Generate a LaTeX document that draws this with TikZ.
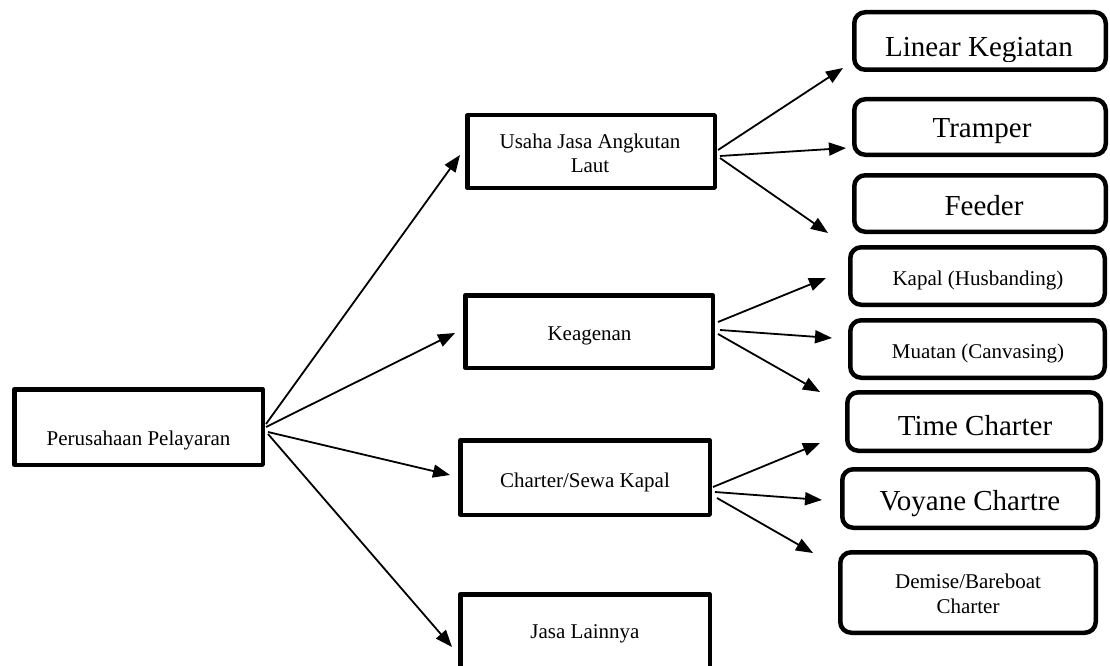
\documentclass[tikz,border=0pt]{standalone}
\usepackage{fontspec}
\setmainfont{Liberation Serif}
\usetikzlibrary{arrows.meta}
\tikzset{
  sqbox/.style={draw=black, line width=4.5pt, fill=white, inner sep=0pt, line join=round},
  rbox/.style={draw=black, line width=4.5pt, fill=white, inner sep=0pt, rounded corners=11pt},
  small/.style={font=\fontsize{21}{24}\selectfont, inner sep=0pt, anchor=base},
  big/.style={font=\fontsize{29}{32}\selectfont, inner sep=0pt, anchor=base},
  conn/.style={line width=1.8pt, -{Triangle[length=17pt,width=13pt]}},
}
\begin{document}
\begin{tikzpicture}[x=1pt,y=-1pt]
\useasboundingbox (0,0) rectangle (1110,666);
% left boxes
\node[sqbox, minimum width=248.5pt, minimum height=75.5pt] (pp) at (138.5,427) {};
\node[small] (ppt) at (138.5,445) {Perusahaan Pelayaran};
\node[sqbox, minimum width=247.5pt, minimum height=72.5pt] (us) at (591,151.5) {};
\node[small] (ust1) at (590,148) {Usaha Jasa Angkutan};
\node[small] (ust2) at (590,172) {Laut};
\node[sqbox, minimum width=247.5pt, minimum height=72.5pt] (kg) at (589,331.5) {};
\node[small] (kgt) at (589.5,340) {Keagenan};
\node[sqbox, minimum width=249.5pt, minimum height=74.5pt] (ch) at (585,477.5) {};
\node[small] (cht) at (585,487) {Charter/Sewa Kapal};
\node[sqbox, minimum width=249.5pt, minimum height=75.5pt] (jl) at (585,632) {};
\node[small] (jlt) at (585,638) {Jasa Lainnya};
% right boxes
\node[rbox, minimum width=251.5pt, minimum height=57.5pt] (lk) at (980,41) {};
\begin{scope}\clip (850,10) rectangle (1110,62);
\node[big] (lkt) at (979,57) {Linear Kegiatan};\end{scope}
\node[rbox, minimum width=251.5pt, minimum height=55.5pt] (tr) at (980,127) {};
\begin{scope}\clip (850,97) rectangle (1110,143);
\node[big] (trt) at (982,138) {Tramper};\end{scope}
\node[rbox, minimum width=251.5pt, minimum height=56.5pt] (fe) at (980,203.5) {};
\node[big] (fet) at (984,215) {Feeder};
\node[rbox, minimum width=254.5pt, minimum height=57.5pt] (kh) at (977.5,276) {};
\node[small] (kht) at (978,285) {Kapal (Husbanding)};
\node[rbox, minimum width=254.5pt, minimum height=57.5pt] (mc) at (977.5,349) {};
\node[small] (mct) at (978,358) {Muatan (Canvasing)};
\node[rbox, minimum width=253.5pt, minimum height=58.5pt] (tc) at (974,421.5) {};
\begin{scope}\clip (840,390) rectangle (1110,440);
\node[big] (tct) at (975,435) {Time Charter};\end{scope}
\node[rbox, minimum width=255.5pt, minimum height=58.5pt] (vc) at (970,498.5) {};
\begin{scope}\clip (835,467) rectangle (1110,516);
\node[big] (vct) at (970,510) {Voyane Chartre};\end{scope}
\node[rbox, minimum width=255.5pt, minimum height=80.5pt] (db) at (968,592.5) {};
\node[small] (dbt1) at (968,588) {Demise/Bareboat};
\node[small] (dbt2) at (968,613) {Charter};
% connector end points
\coordinate (p1) at (266,424); \coordinate (p2) at (266,427);
\coordinate (p3) at (268,432); \coordinate (p4) at (268,434);
\coordinate (t1) at (460,155); \coordinate (t2) at (455,333);
\coordinate (t3) at (450,475); \coordinate (t4) at (452,647);
\coordinate (u1) at (718,150); \coordinate (u2) at (720,156); \coordinate (u3) at (720,158);
\coordinate (v1) at (843,68); \coordinate (v2) at (846,148); \coordinate (v3) at (828,233);
\coordinate (k1) at (718,322); \coordinate (k2) at (720,330); \coordinate (k3) at (718,334);
\coordinate (w1) at (826,278); \coordinate (w2) at (832,338); \coordinate (w3) at (820,392);
\coordinate (c1) at (713,487); \coordinate (c2) at (715,492); \coordinate (c3) at (717,498);
\coordinate (x1) at (820,443); \coordinate (x2) at (822,500); \coordinate (x3) at (813,553);
% connectors
\draw[conn] (p1) -- (t1);
\draw[conn] (p2) -- (t2);
\draw[conn] (p3) -- (t3);
\draw[conn] (p4) -- (t4);
\draw[conn] (u1) -- (v1);
\draw[conn] (u2) -- (v2);
\draw[conn] (u3) -- (v3);
\draw[conn] (k1) -- (w1);
\draw[conn] (k2) -- (w2);
\draw[conn] (k3) -- (w3);
\draw[conn] (c1) -- (x1);
\draw[conn] (c2) -- (x2);
\draw[conn] (c3) -- (x3);
\end{tikzpicture}
\end{document}
